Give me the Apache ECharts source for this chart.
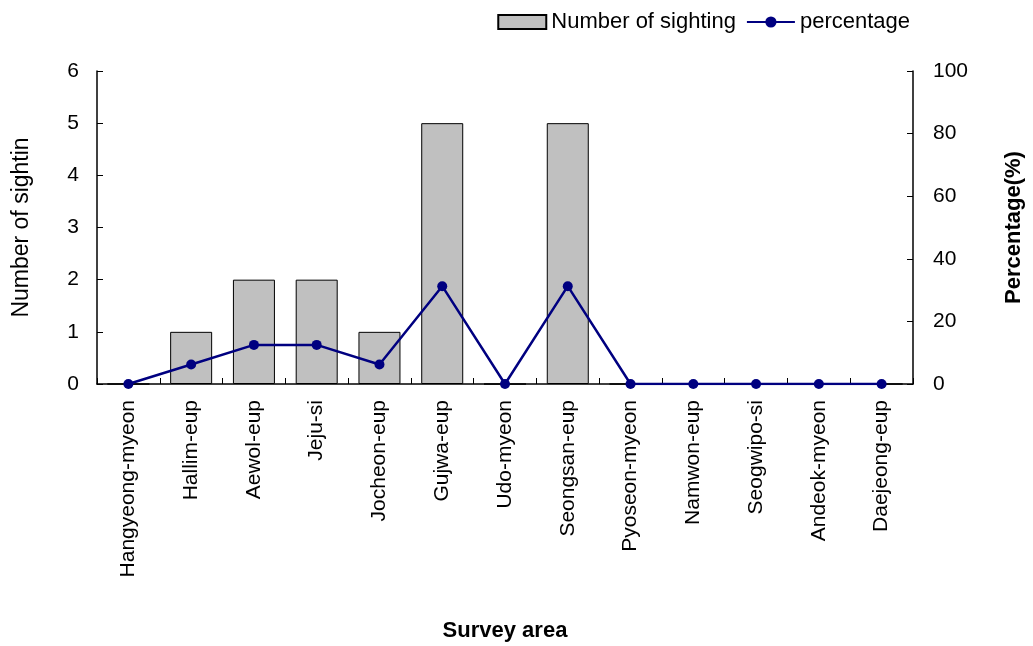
<!DOCTYPE html>
<html>
<head>
<meta charset="utf-8">
<script src="https://cdn.jsdelivr.net/npm/echarts@6/dist/echarts.min.js"></script>
<style>
html, body { margin: 0; padding: 0; background: #fff; }
#chart_div { width: 1033px; height: 646px; }
</style>
</head>
<body>
<div id="chart_div"></div>
<script>
var areas = ["Hangyeong-myeon", "Hallim-eup", "Aewol-eup", "Jeju-si", "Jocheon-eup", "Gujwa-eup", "Udo-myeon",
	"Seongsan-eup", "Pyoseon-myeon", "Namwon-eup", "Seogwipo-si", "Andeok-myeon", "Daejeong-eup"];
var sightings = [0, 1, 2, 2, 1, 5, 0, 5, 0, 0, 0, 0, 0];
var percentage = [0, 6.25, 12.5, 12.5, 6.25, 31.25, 0, 31.25, 0, 0, 0, 0, 0];

var font = "Liberation Sans, Arial, sans-serif";
var axisLine = { show: true, lineStyle: { color: "#000", width: 1.5 } };
var tick = { show: true, inside: true, length: 6, lineStyle: { color: "#000" } };

var chart = echarts.init(document.getElementById('chart_div'));
var option = {
	animation: false,
	textStyle: { fontFamily: font, color: "#000" },
	legend: {
		right: 118, top: 6,
		itemWidth: 48, itemHeight: 14, itemGap: 10,
		textStyle: { fontSize: 22, color: "#000", fontFamily: font },
		data: [
			{ name: "Number of sighting", icon: "rect" },
			{ name: "percentage" }
		]
	},
	grid: { left: 97, right: 118, top: 71, bottom: 262 },
	xAxis: {
		type: "category",
		data: areas,
		name: "Survey area",
		nameLocation: "middle",
		nameGap: 236,
		nameTextStyle: { fontSize: 22, fontWeight: "bold", color: "#000", fontFamily: font },
		axisLine: axisLine,
		axisTick: tick,
		axisLabel: { rotate: 90, fontSize: 21, color: "#000", margin: 16, fontFamily: font }
	},
	yAxis: [
		{
			type: "value", min: 0, max: 6, interval: 1,
			name: "Number of sightin",
			nameLocation: "middle", nameGap: 64,
			nameTextStyle: { fontSize: 23, color: "#000", fontFamily: font },
			axisLine: axisLine,
			axisTick: tick,
			axisLabel: { fontSize: 21, color: "#000", margin: 18, fontFamily: font },
			splitLine: { show: false }
		},
		{
			type: "value", min: 0, max: 100, interval: 20,
			name: "Percentage(%)",
			nameLocation: "middle", nameGap: 90,
			nameTextStyle: { fontSize: 22, fontWeight: "bold", color: "#000", fontFamily: font },
			axisLine: axisLine,
			axisTick: tick,
			axisLabel: { fontSize: 21, color: "#000", margin: 20, fontFamily: font },
			splitLine: { show: false }
		}
	],
	series: [
		{
			name: "Number of sighting",
			type: "bar",
			yAxisIndex: 0,
			barWidth: 42,
			data: sightings,
			itemStyle: { color: "#c0c0c0", borderColor: "#000", borderWidth: 1 }
		},
		{
			name: "percentage",
			type: "line",
			yAxisIndex: 1,
			data: percentage,
			symbol: "circle",
			symbolSize: 10,
			lineStyle: { color: "#000080", width: 2.5 },
			itemStyle: { color: "#000080" }
		}
	]
};
chart.setOption(option);
</script>
</body>
</html>
